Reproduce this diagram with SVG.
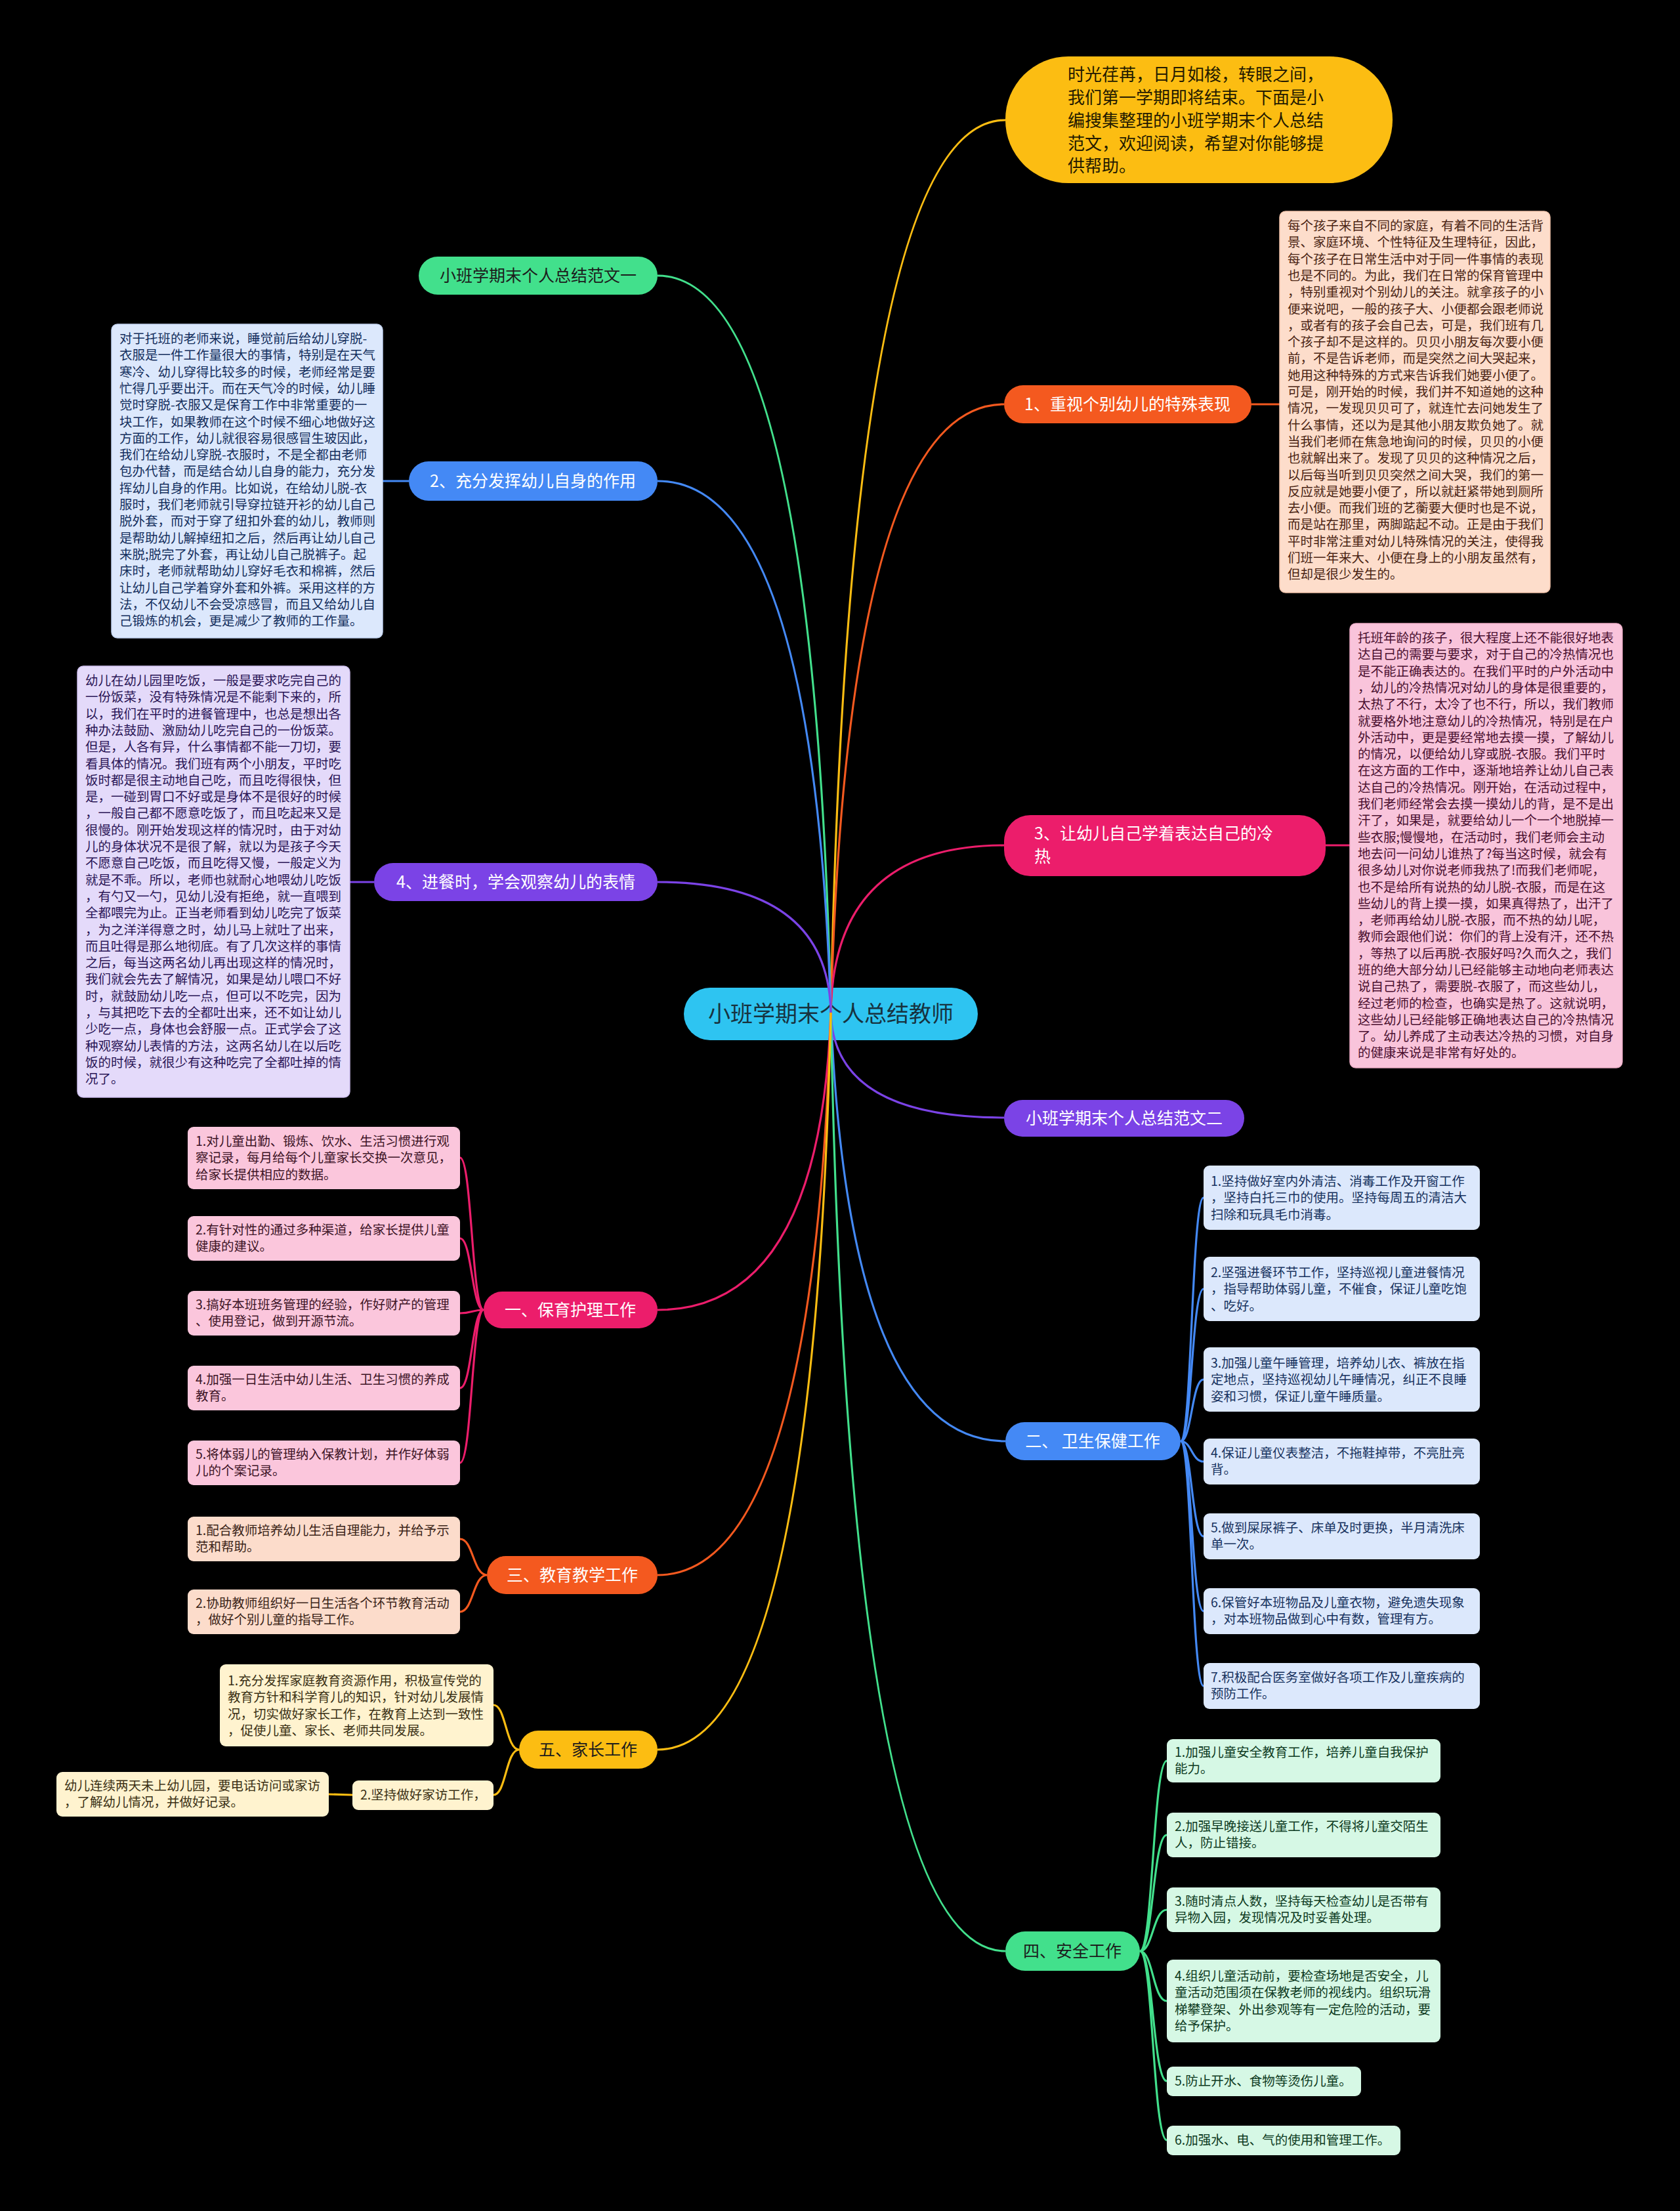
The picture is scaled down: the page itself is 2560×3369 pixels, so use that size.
<svg xmlns="http://www.w3.org/2000/svg" width="2560" height="3369" viewBox="0 0 2560 3369">
<style>
text{font-family:"Noto Sans CJK SC","Noto Sans",sans-serif;}
.c{fill:none;stroke-width:3.2;}
.pill{font-size:25px;}
.blk{font-size:19.5px;}
.w{fill:#ffffff;}
.d{fill:#1c1c1c;}
</style>
<rect x="0" y="0" width="2560" height="3369" fill="#000000"/>

<g id="center">
<rect x="1042" y="1505" width="448" height="80" rx="40" fill="#2EC4F1"/>
<text x="1266" y="1557" font-size="34" text-anchor="middle" fill="#17323f">小班学期末个人总结教师</text>
</g>

<g id="connectors">
<path class="c" stroke="#FCBD12" d="M1266,1543 Q1293,183 1532,183"/>
<path class="c" stroke="#F4591F" d="M1266,1543 Q1292,616 1530,616"/>
<path class="c" stroke="#EC1D6B" d="M1266,1543 Q1270,1288 1530,1288"/>
<path class="c" stroke="#7B43E6" d="M1266,1543 Q1270,1703 1530,1703"/>
<path class="c" stroke="#4489F5" d="M1266,1543 Q1293,2196 1532,2196"/>
<path class="c" stroke="#42E08C" d="M1266,1543 Q1293,2973 1532,2973"/>
<path class="c" stroke="#42E08C" d="M1266,1543 Q1240,420 1002,420"/>
<path class="c" stroke="#4489F5" d="M1266,1543 Q1240,733 1002,733"/>
<path class="c" stroke="#7B43E6" d="M1266,1543 Q1262,1344 1002,1344"/>
<path class="c" stroke="#EC1D6B" d="M1266,1543 Q1250,1996 1002,1996"/>
<path class="c" stroke="#F4591F" d="M1266,1543 Q1240,2400 1002,2400"/>
<path class="c" stroke="#FCBD12" d="M1266,1543 Q1240,2666 1002,2666"/>
<path class="c" stroke="#F4591F" d="M1907,616 L1950,616"/>
<path class="c" stroke="#EC1D6B" d="M2020,1288 L2057,1288"/>
<path class="c" stroke="#4489F5" d="M623,733 L583,733"/>
<path class="c" stroke="#7B43E6" d="M570,1344 L533,1344"/>
<path class="c" stroke="#EC1D6B" d="M737,1996 C719,1996 719,1764 701,1764 M737,1996 C719,1996 719,1887 701,1887 M737,1996 C719,1996 719,2001 701,2001 M737,1996 C719,1996 719,2115 701,2115 M737,1996 C719,1996 719,2229 701,2229"/>
<path class="c" stroke="#F4591F" d="M742,2400 C721,2400 721,2345 701,2345 M742,2400 C721,2400 721,2456 701,2456"/>
<path class="c" stroke="#FCBD12" d="M791,2666 C771,2666 771,2598 752,2598 M791,2666 C771,2666 771,2735 752,2735 M537,2735 L501,2734"/>
<path class="c" stroke="#4489F5" d="M1799,2196 C1816,2196 1816,1825 1834,1825 M1799,2196 C1816,2196 1816,1964 1834,1964 M1799,2196 C1816,2196 1816,2102 1834,2102 M1799,2196 C1816,2196 1816,2227 1834,2227 M1799,2196 C1816,2196 1816,2341 1834,2341 M1799,2196 C1816,2196 1816,2455 1834,2455 M1799,2196 C1816,2196 1816,2569 1834,2569"/>
<path class="c" stroke="#42E08C" d="M1737,2973 C1757,2973 1757,2683 1778,2683 M1737,2973 C1757,2973 1757,2796 1778,2796 M1737,2973 C1757,2973 1757,2910 1778,2910 M1737,2973 C1757,2973 1757,3049 1778,3049 M1737,2973 C1757,2973 1757,3171 1778,3171 M1737,2973 C1757,2973 1757,3261 1778,3261"/>
</g>

<g id="intro">
<rect x="1532" y="86" width="590" height="193" rx="96" fill="#FCBD12"/>
<text font-size="26" fill="#231a00"><tspan x="1627" y="123">时光荏苒，日月如梭，转眼之间，</tspan><tspan x="1627" y="158">我们第一学期即将结束。下面是小</tspan><tspan x="1627" y="193">编搜集整理的小班学期末个人总结</tspan><tspan x="1627" y="228">范文，欢迎阅读，希望对你能够提</tspan><tspan x="1627" y="262">供帮助。</tspan></text>
</g>

<g id="n1">
<rect x="1530" y="587" width="377" height="58" rx="29" fill="#F4591F"/>
<text x="1718" y="625" text-anchor="middle" class="pill w">1、重视个别幼儿的特殊表现</text>
</g>
<g id="n1text">
<rect x="1950" y="322" width="412" height="581" rx="9" fill="#FDDDCB" stroke="#f3c6ae" stroke-width="1.5"/>
<text class="blk" fill="#4a2413"><tspan x="1962" y="351">每个孩子来自不同的家庭，有着不同的生活背</tspan><tspan x="1962" dy="25.3">景、家庭环境、个性特征及生理特征，因此，</tspan><tspan x="1962" dy="25.3">每个孩子在日常生活中对于同一件事情的表现</tspan><tspan x="1962" dy="25.3">也是不同的。为此，我们在日常的保育管理中</tspan><tspan x="1962" dy="25.3">，特别重视对个别幼儿的关注。就拿孩子的小</tspan><tspan x="1962" dy="25.3">便来说吧，一般的孩子大、小便都会跟老师说</tspan><tspan x="1962" dy="25.3">，或者有的孩子会自己去，可是，我们班有几</tspan><tspan x="1962" dy="25.3">个孩子却不是这样的。贝贝小朋友每次要小便</tspan><tspan x="1962" dy="25.3">前，不是告诉老师，而是突然之间大哭起来，</tspan><tspan x="1962" dy="25.3">她用这种特殊的方式来告诉我们她要小便了。</tspan><tspan x="1962" dy="25.3">可是，刚开始的时候，我们并不知道她的这种</tspan><tspan x="1962" dy="25.3">情况，一发现贝贝可了，就连忙去问她发生了</tspan><tspan x="1962" dy="25.3">什么事情，还以为是其他小朋友欺负她了。就</tspan><tspan x="1962" dy="25.3">当我们老师在焦急地询问的时候，贝贝的小便</tspan><tspan x="1962" dy="25.3">也就解出来了。发现了贝贝的这种情况之后，</tspan><tspan x="1962" dy="25.3">以后每当听到贝贝突然之间大哭，我们的第一</tspan><tspan x="1962" dy="25.3">反应就是她要小便了，所以就赶紧带她到厕所</tspan><tspan x="1962" dy="25.3">去小便。而我们班的艺蘅要大便时也是不说，</tspan><tspan x="1962" dy="25.3">而是站在那里，两脚踮起不动。正是由于我们</tspan><tspan x="1962" dy="25.3">平时非常注重对幼儿特殊情况的关注，使得我</tspan><tspan x="1962" dy="25.3">们班一年来大、小便在身上的小朋友虽然有，</tspan><tspan x="1962" dy="25.3">但却是很少发生的。</tspan></text>
</g>

<g id="n3">
<rect x="1530" y="1242" width="490" height="93" rx="40" fill="#EC1D6B"/>
<text class="pill w"><tspan x="1576" y="1279">3、让幼儿自己学着表达自己的冷</tspan><tspan x="1576" y="1314">热</tspan></text>
</g>
<g id="n3text">
<rect x="2057" y="950" width="415" height="677" rx="9" fill="#F9C4DB" stroke="#eeafc9" stroke-width="1.5"/>
<text class="blk" fill="#4a0f2f"><tspan x="2069" y="979">托班年龄的孩子，很大程度上还不能很好地表</tspan><tspan x="2069" dy="25.3">达自己的需要与要求，对于自己的冷热情况也</tspan><tspan x="2069" dy="25.3">是不能正确表达的。在我们平时的户外活动中</tspan><tspan x="2069" dy="25.3">，幼儿的冷热情况对幼儿的身体是很重要的，</tspan><tspan x="2069" dy="25.3">太热了不行，太冷了也不行，所以，我们教师</tspan><tspan x="2069" dy="25.3">就要格外地注意幼儿的冷热情况，特别是在户</tspan><tspan x="2069" dy="25.3">外活动中，更是要经常地去摸一摸，了解幼儿</tspan><tspan x="2069" dy="25.3">的情况，以便给幼儿穿或脱-衣服。我们平时</tspan><tspan x="2069" dy="25.3">在这方面的工作中，逐渐地培养让幼儿自己表</tspan><tspan x="2069" dy="25.3">达自己的冷热情况。刚开始，在活动过程中，</tspan><tspan x="2069" dy="25.3">我们老师经常会去摸一摸幼儿的背，是不是出</tspan><tspan x="2069" dy="25.3">汗了，如果是，就要给幼儿一个一个地脱掉一</tspan><tspan x="2069" dy="25.3">些衣服;慢慢地，在活动时，我们老师会主动</tspan><tspan x="2069" dy="25.3">地去问一问幼儿谁热了?每当这时候，就会有</tspan><tspan x="2069" dy="25.3">很多幼儿对你说老师我热了!而我们老师呢，</tspan><tspan x="2069" dy="25.3">也不是给所有说热的幼儿脱-衣服，而是在这</tspan><tspan x="2069" dy="25.3">些幼儿的背上摸一摸，如果真得热了，出汗了</tspan><tspan x="2069" dy="25.3">，老师再给幼儿脱-衣服，而不热的幼儿呢，</tspan><tspan x="2069" dy="25.3">教师会跟他们说：你们的背上没有汗，还不热</tspan><tspan x="2069" dy="25.3">，等热了以后再脱-衣服好吗?久而久之，我们</tspan><tspan x="2069" dy="25.3">班的绝大部分幼儿已经能够主动地向老师表达</tspan><tspan x="2069" dy="25.3">说自己热了，需要脱-衣服了，而这些幼儿，</tspan><tspan x="2069" dy="25.3">经过老师的检查，也确实是热了。这就说明，</tspan><tspan x="2069" dy="25.3">这些幼儿已经能够正确地表达自己的冷热情况</tspan><tspan x="2069" dy="25.3">了。幼儿养成了主动表达冷热的习惯，对自身</tspan><tspan x="2069" dy="25.3">的健康来说是非常有好处的。</tspan></text>
</g>

<g id="fanwen2">
<rect x="1530" y="1676" width="366" height="56" rx="28" fill="#7B43E6"/>
<text x="1713" y="1713" text-anchor="middle" class="pill w">小班学期末个人总结范文二</text>
</g>

<g id="weisheng">
<rect x="1532" y="2167" width="267" height="58" rx="29" fill="#4489F5"/>
<text x="1665" y="2205" text-anchor="middle" class="pill w">二、 卫生保健工作</text>
</g>
<g id="ws1"><rect x="1834" y="1776" width="421" height="98" rx="9" fill="#DCE8FC"/><text class="blk" fill="#17325e"><tspan x="1845" y="1807">1.坚持做好室内外清洁、消毒工作及开窗工作</tspan><tspan x="1845" dy="25.3">，坚持白托三巾的使用。坚持每周五的清洁大</tspan><tspan x="1845" dy="25.3">扫除和玩具毛巾消毒。</tspan></text></g>
<g id="ws2"><rect x="1834" y="1915" width="421" height="98" rx="9" fill="#DCE8FC"/><text class="blk" fill="#17325e"><tspan x="1845" y="1946">2.坚强进餐环节工作，坚持巡视儿童进餐情况</tspan><tspan x="1845" dy="25.3">，指导帮助体弱儿童，不催食，保证儿童吃饱</tspan><tspan x="1845" dy="25.3">、吃好。</tspan></text></g>
<g id="ws3"><rect x="1834" y="2053" width="421" height="98" rx="9" fill="#DCE8FC"/><text class="blk" fill="#17325e"><tspan x="1845" y="2084">3.加强儿童午睡管理，培养幼儿衣、裤放在指</tspan><tspan x="1845" dy="25.3">定地点，坚持巡视幼儿午睡情况，纠正不良睡</tspan><tspan x="1845" dy="25.3">姿和习惯，保证儿童午睡质量。</tspan></text></g>
<g id="ws4"><rect x="1834" y="2192" width="421" height="70" rx="9" fill="#DCE8FC"/><text class="blk" fill="#17325e"><tspan x="1845" y="2221">4.保证儿童仪表整洁，不拖鞋掉带，不亮肚亮</tspan><tspan x="1845" dy="25.3">背。</tspan></text></g>
<g id="ws5"><rect x="1834" y="2306" width="421" height="70" rx="9" fill="#DCE8FC"/><text class="blk" fill="#17325e"><tspan x="1845" y="2335">5.做到屎尿裤子、床单及时更换，半月清洗床</tspan><tspan x="1845" dy="25.3">单一次。</tspan></text></g>
<g id="ws6"><rect x="1834" y="2420" width="421" height="70" rx="9" fill="#DCE8FC"/><text class="blk" fill="#17325e"><tspan x="1845" y="2449">6.保管好本班物品及儿童衣物，避免遗失现象</tspan><tspan x="1845" dy="25.3">，对本班物品做到心中有数，管理有方。</tspan></text></g>
<g id="ws7"><rect x="1834" y="2534" width="421" height="70" rx="9" fill="#DCE8FC"/><text class="blk" fill="#17325e"><tspan x="1845" y="2563">7.积极配合医务室做好各项工作及儿童疾病的</tspan><tspan x="1845" dy="25.3">预防工作。</tspan></text></g>

<g id="anquan">
<rect x="1532" y="2943" width="205" height="60" rx="30" fill="#42E08C"/>
<text x="1634" y="2982" text-anchor="middle" class="pill d">四、安全工作</text>
</g>
<g id="aq1"><rect x="1778" y="2650" width="417" height="66" rx="9" fill="#D6F8E5"/><text class="blk" fill="#0d3a21"><tspan x="1790" y="2677">1.加强儿童安全教育工作，培养儿童自我保护</tspan><tspan x="1790" dy="25.3">能力。</tspan></text></g>
<g id="aq2"><rect x="1778" y="2762" width="417" height="68" rx="9" fill="#D6F8E5"/><text class="blk" fill="#0d3a21"><tspan x="1790" y="2790">2.加强早晚接送儿童工作，不得将儿童交陌生</tspan><tspan x="1790" dy="25.3">人，防止错接。</tspan></text></g>
<g id="aq3"><rect x="1778" y="2876" width="417" height="68" rx="9" fill="#D6F8E5"/><text class="blk" fill="#0d3a21"><tspan x="1790" y="2904">3.随时清点人数，坚持每天检查幼儿是否带有</tspan><tspan x="1790" dy="25.3">异物入园，发现情况及时妥善处理。</tspan></text></g>
<g id="aq4"><rect x="1778" y="2986" width="417" height="126" rx="9" fill="#D6F8E5"/><text class="blk" fill="#0d3a21"><tspan x="1790" y="3018">4.组织儿童活动前，要检查场地是否安全，儿</tspan><tspan x="1790" dy="25.3">童活动范围须在保教老师的视线内。组织玩滑</tspan><tspan x="1790" dy="25.3">梯攀登架、外出参观等有一定危险的活动，要</tspan><tspan x="1790" dy="25.3">给予保护。</tspan></text></g>
<g id="aq5"><rect x="1778" y="3149" width="296" height="45" rx="9" fill="#D6F8E5"/><text class="blk" fill="#0d3a21" x="1790" y="3178">5.防止开水、食物等烫伤儿童。</text></g>
<g id="aq6"><rect x="1778" y="3239" width="356" height="45" rx="9" fill="#D6F8E5"/><text class="blk" fill="#0d3a21" x="1790" y="3268">6.加强水、电、气的使用和管理工作。</text></g>

<g id="fanwen1">
<rect x="638" y="391" width="364" height="58" rx="29" fill="#42E08C"/>
<text x="820" y="429" text-anchor="middle" class="pill d">小班学期末个人总结范文一</text>
</g>

<g id="n2">
<rect x="623" y="703" width="379" height="60" rx="30" fill="#4489F5"/>
<text x="812" y="742" text-anchor="middle" class="pill w">2、充分发挥幼儿自身的作用</text>
</g>
<g id="n2text">
<rect x="170" y="494" width="413" height="478" rx="9" fill="#DCE8FC" stroke="#c4d5f2" stroke-width="1.5"/>
<text class="blk" fill="#132e5c"><tspan x="182" y="523">对于托班的老师来说，睡觉前后给幼儿穿脱-</tspan><tspan x="182" dy="25.3">衣服是一件工作量很大的事情，特别是在天气</tspan><tspan x="182" dy="25.3">寒冷、幼儿穿得比较多的时候，老师经常是要</tspan><tspan x="182" dy="25.3">忙得几乎要出汗。而在天气冷的时候，幼儿睡</tspan><tspan x="182" dy="25.3">觉时穿脱-衣服又是保育工作中非常重要的一</tspan><tspan x="182" dy="25.3">块工作，如果教师在这个时候不细心地做好这</tspan><tspan x="182" dy="25.3">方面的工作，幼儿就很容易很感冒生玻因此，</tspan><tspan x="182" dy="25.3">我们在给幼儿穿脱-衣服时，不是全都由老师</tspan><tspan x="182" dy="25.3">包办代替，而是结合幼儿自身的能力，充分发</tspan><tspan x="182" dy="25.3">挥幼儿自身的作用。比如说，在给幼儿脱-衣</tspan><tspan x="182" dy="25.3">服时，我们老师就引导穿拉链开衫的幼儿自己</tspan><tspan x="182" dy="25.3">脱外套，而对于穿了纽扣外套的幼儿，教师则</tspan><tspan x="182" dy="25.3">是帮助幼儿解掉纽扣之后，然后再让幼儿自己</tspan><tspan x="182" dy="25.3">来脱;脱完了外套，再让幼儿自己脱裤子。起</tspan><tspan x="182" dy="25.3">床时，老师就帮助幼儿穿好毛衣和棉裤，然后</tspan><tspan x="182" dy="25.3">让幼儿自己学着穿外套和外裤。采用这样的方</tspan><tspan x="182" dy="25.3">法，不仅幼儿不会受凉感冒，而且又给幼儿自</tspan><tspan x="182" dy="25.3">己锻炼的机会，更是减少了教师的工作量。</tspan></text>
</g>

<g id="n4">
<rect x="570" y="1315" width="432" height="58" rx="29" fill="#7B43E6"/>
<text x="786" y="1353" text-anchor="middle" class="pill w">4、进餐时，学会观察幼儿的表情</text>
</g>
<g id="n4text">
<rect x="118" y="1015" width="415" height="657" rx="9" fill="#E4DAFA" stroke="#cfc1f0" stroke-width="1.5"/>
<text class="blk" fill="#2a1556"><tspan x="130" y="1044">幼儿在幼儿园里吃饭，一般是要求吃完自己的</tspan><tspan x="130" dy="25.3">一份饭菜，没有特殊情况是不能剩下来的，所</tspan><tspan x="130" dy="25.3">以，我们在平时的进餐管理中，也总是想出各</tspan><tspan x="130" dy="25.3">种办法鼓励、激励幼儿吃完自己的一份饭菜。</tspan><tspan x="130" dy="25.3">但是，人各有异，什么事情都不能一刀切，要</tspan><tspan x="130" dy="25.3">看具体的情况。我们班有两个小朋友，平时吃</tspan><tspan x="130" dy="25.3">饭时都是很主动地自己吃，而且吃得很快，但</tspan><tspan x="130" dy="25.3">是，一碰到胃口不好或是身体不是很好的时候</tspan><tspan x="130" dy="25.3">，一般自己都不愿意吃饭了，而且吃起来又是</tspan><tspan x="130" dy="25.3">很慢的。刚开始发现这样的情况时，由于对幼</tspan><tspan x="130" dy="25.3">儿的身体状况不是很了解，就以为是孩子今天</tspan><tspan x="130" dy="25.3">不愿意自己吃饭，而且吃得又慢，一般定义为</tspan><tspan x="130" dy="25.3">就是不乖。所以，老师也就耐心地喂幼儿吃饭</tspan><tspan x="130" dy="25.3">，有勺又一勺，见幼儿没有拒绝，就一直喂到</tspan><tspan x="130" dy="25.3">全都喂完为止。正当老师看到幼儿吃完了饭菜</tspan><tspan x="130" dy="25.3">，为之洋洋得意之时，幼儿马上就吐了出来，</tspan><tspan x="130" dy="25.3">而且吐得是那么地彻底。有了几次这样的事情</tspan><tspan x="130" dy="25.3">之后，每当这两名幼儿再出现这样的情况时，</tspan><tspan x="130" dy="25.3">我们就会先去了解情况，如果是幼儿喂口不好</tspan><tspan x="130" dy="25.3">时，就鼓励幼儿吃一点，但可以不吃完，因为</tspan><tspan x="130" dy="25.3">，与其把吃下去的全都吐出来，还不如让幼儿</tspan><tspan x="130" dy="25.3">少吃一点，身体也会舒服一点。正式学会了这</tspan><tspan x="130" dy="25.3">种观察幼儿表情的方法，这两名幼儿在以后吃</tspan><tspan x="130" dy="25.3">饭的时候，就很少有这种吃完了全都吐掉的情</tspan><tspan x="130" dy="25.3">况了。</tspan></text>
</g>

<g id="baoyu">
<rect x="737" y="1968" width="265" height="56" rx="28" fill="#EC1D6B"/>
<text x="869" y="2005" text-anchor="middle" class="pill w">一、保育护理工作</text>
</g>
<g id="by1"><rect x="286" y="1717" width="415" height="95" rx="9" fill="#FBC6DC"/><text class="blk" fill="#3d1426"><tspan x="298" y="1746">1.对儿童出勤、锻炼、饮水、生活习惯进行观</tspan><tspan x="298" dy="25.3">察记录，每月给每个儿童家长交换一次意见，</tspan><tspan x="298" dy="25.3">给家长提供相应的数据。</tspan></text></g>
<g id="by2"><rect x="286" y="1853" width="415" height="68" rx="9" fill="#FBC6DC"/><text class="blk" fill="#3d1426"><tspan x="298" y="1881">2.有针对性的通过多种渠道，给家长提供儿童</tspan><tspan x="298" dy="25.3">健康的建议。</tspan></text></g>
<g id="by3"><rect x="286" y="1967" width="415" height="68" rx="9" fill="#FBC6DC"/><text class="blk" fill="#3d1426"><tspan x="298" y="1995">3.搞好本班班务管理的经验，作好财产的管理</tspan><tspan x="298" dy="25.3">、使用登记，做到开源节流。</tspan></text></g>
<g id="by4"><rect x="286" y="2081" width="415" height="68" rx="9" fill="#FBC6DC"/><text class="blk" fill="#3d1426"><tspan x="298" y="2109">4.加强一日生活中幼儿生活、卫生习惯的养成</tspan><tspan x="298" dy="25.3">教育。</tspan></text></g>
<g id="by5"><rect x="286" y="2195" width="415" height="68" rx="9" fill="#FBC6DC"/><text class="blk" fill="#3d1426"><tspan x="298" y="2223">5.将体弱儿的管理纳入保教计划，并作好体弱</tspan><tspan x="298" dy="25.3">儿的个案记录。</tspan></text></g>

<g id="jiaoyu">
<rect x="742" y="2371" width="260" height="58" rx="29" fill="#F4591F"/>
<text x="872" y="2409" text-anchor="middle" class="pill w">三、教育教学工作</text>
</g>
<g id="jy1"><rect x="286" y="2311" width="415" height="68" rx="9" fill="#FCDCCB"/><text class="blk" fill="#3b2418"><tspan x="298" y="2339">1.配合教师培养幼儿生活自理能力，并给予示</tspan><tspan x="298" dy="25.3">范和帮助。</tspan></text></g>
<g id="jy2"><rect x="286" y="2422" width="415" height="68" rx="9" fill="#FCDCCB"/><text class="blk" fill="#3b2418"><tspan x="298" y="2450">2.协助教师组织好一日生活各个环节教育活动</tspan><tspan x="298" dy="25.3">，做好个别儿童的指导工作。</tspan></text></g>

<g id="jiazhang">
<rect x="791" y="2637" width="211" height="58" rx="29" fill="#FCBD12"/>
<text x="896" y="2675" text-anchor="middle" class="pill d">五、家长工作</text>
</g>
<g id="jz1"><rect x="335" y="2536" width="417" height="125" rx="9" fill="#FFF3CF"/><text class="blk" fill="#3a3014"><tspan x="347" y="2568">1.充分发挥家庭教育资源作用，积极宣传党的</tspan><tspan x="347" dy="25.3">教育方针和科学育儿的知识，针对幼儿发展情</tspan><tspan x="347" dy="25.3">况，切实做好家长工作，在教育上达到一致性</tspan><tspan x="347" dy="25.3">，促使儿童、家长、老师共同发展。</tspan></text></g>
<g id="jz2"><rect x="537" y="2713" width="215" height="45" rx="9" fill="#FFF3CF"/><text class="blk" fill="#3a3014" x="549" y="2742">2.坚持做好家访工作，</text></g>
<g id="jz2a"><rect x="86" y="2700" width="415" height="68" rx="9" fill="#FFF3CF"/><text class="blk" fill="#3a3014"><tspan x="98" y="2728">幼儿连续两天未上幼儿园，要电话访问或家访</tspan><tspan x="98" dy="25.3">，了解幼儿情况，并做好记录。</tspan></text></g>
</svg>
